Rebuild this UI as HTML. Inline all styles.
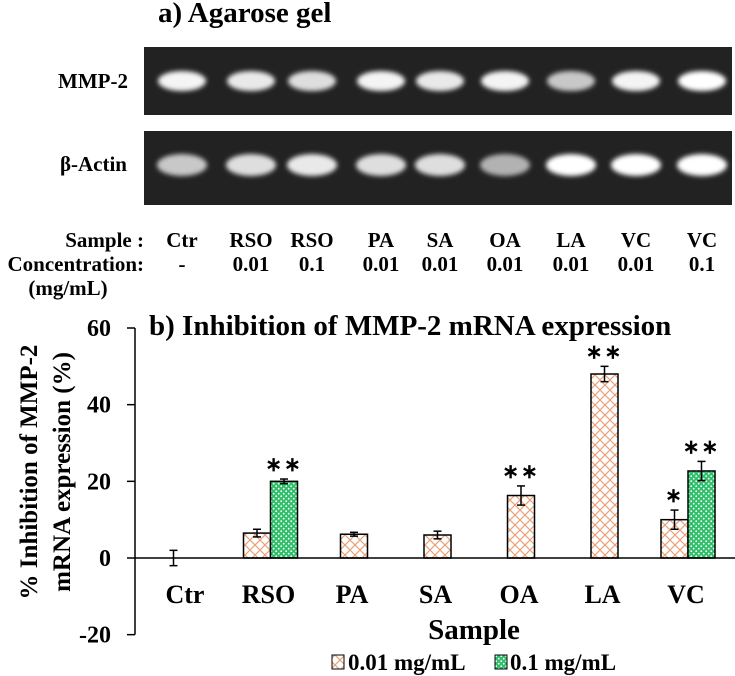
<!DOCTYPE html>
<html><head><meta charset="utf-8"><style>
body{margin:0;background:#fff;}
svg{display:block;font-family:"Liberation Serif",serif;font-weight:bold;}
</style></head><body>
<svg width="735" height="676" viewBox="0 0 735 676" xmlns="http://www.w3.org/2000/svg">
<defs>
<pattern id="hatch" width="10" height="10" patternUnits="userSpaceOnUse">
<rect width="10" height="10" fill="#fff"/>
<path d="M0,0 L10,10 M10,0 L0,10" stroke="#e8a27a" stroke-width="1.2"/>
</pattern>
<pattern id="dots" width="5" height="5" patternUnits="userSpaceOnUse">
<rect width="5" height="5" fill="#2fbf6a"/>
<circle cx="1.2" cy="1.2" r="0.9" fill="#fff"/>
<circle cx="3.7" cy="3.7" r="0.9" fill="#fff"/>
</pattern>
<filter id="blur"><feGaussianBlur stdDeviation="2.5"/></filter>
</defs>

<text x="158" y="22" font-size="29">a) Agarose gel</text>
<text x="128" y="88" font-size="21" text-anchor="end">MMP-2</text>
<text x="127" y="171" font-size="21" text-anchor="end">β-Actin</text>
<rect x="144" y="47" width="588" height="68" fill="#222"/>
<rect x="144" y="131" width="588" height="74" fill="#222"/>
<g id="bands" filter="url(#blur)"></g>

<g font-size="21">
<text x="144" y="247" text-anchor="end">Sample :</text>
<text x="144" y="271" text-anchor="end">Concentration:</text>
<text x="68" y="295" text-anchor="middle">(mg/mL)</text>
</g>
<g id="lanes" font-size="21" text-anchor="middle"></g>

<text x="149" y="335" font-size="29">b) Inhibition of MMP-2 mRNA expression</text>
<g id="chart"></g>
<text transform="translate(37,472) rotate(-90)" font-size="25" text-anchor="middle">% Inhibition of MMP-2</text>
<text transform="translate(70,472) rotate(-90)" font-size="25" text-anchor="middle">mRNA expression (%)</text>
<text x="474" y="639" font-size="29" text-anchor="middle">Sample</text>
<g font-size="23">
<rect x="332" y="655" width="12" height="14" fill="url(#hatch)" stroke="#000"/>
<text x="348" y="670">0.01 mg/mL</text>
<rect x="495" y="655" width="12" height="14" fill="url(#dots)" stroke="#000"/>
<text x="510" y="670">0.1 mg/mL</text>
</g>
</svg>
<script>
const laneSamples=["Ctr","RSO","RSO","PA","SA","OA","LA","VC","VC"];
const laneConc=["-","0.01","0.1","0.01","0.01","0.01","0.01","0.01","0.1"];
const laneX=[182,251,312,381,440,505,571,636,702];
const mmpIntensity=[0.95,0.9,0.85,0.95,0.9,0.95,0.75,0.95,1];
const actinIntensity=[0.75,0.85,0.9,0.85,0.85,0.65,1,1,1];

const categories=["Ctr","RSO","PA","SA","OA","LA","VC"];
const low=[0,6.5,6.2,6,16.3,48,10];
const lowErr=[2,1,0.5,1,2.5,2,2.5];
const high=[null,20,null,null,null,null,22.7];
const highErr=[null,0.6,null,null,null,null,2.5];
const lowSig=["","","","","**","**","*"];
const highSig=["","**","","","","","**"];
const paired=[true,true,false,false,false,false,true];
const yTicks=[60,40,20,0,-20];

const NS="http://www.w3.org/2000/svg";
function mk(tag,attrs,parent,text){const e=document.createElementNS(NS,tag);for(const k in attrs)e.setAttribute(k,attrs[k]);if(text!=null)e.textContent=text;parent.appendChild(e);return e;}

const bands=document.getElementById('bands');
const lanes=document.getElementById('lanes');
laneX.forEach((x,i)=>{
  const b1=mk('ellipse',{cx:x,cy:81,rx:24,ry:10,fill:'#fff','fill-opacity':mmpIntensity[i]},bands);
  
  
  const b2=mk('ellipse',{cx:x,cy:165,rx:25,ry:11,fill:'#fff','fill-opacity':actinIntensity[i]},bands);
  
  
  const t1=mk('text',{x:x,y:247},lanes,laneSamples[i]);
  
  
  const t2=mk('text',{x:x,y:271},lanes,laneConc[i]);
  
  
});

const chart=document.getElementById('chart');
const axX=135;
const yScale=v=>558-(v)*(230/60);
const xC=i=>187+i*83.5;
const bw=27;
const ya=mk('line',{x1:axX,y1:yScale(60),x2:axX,y2:yScale(-20),stroke:'#000','stroke-width':1.5},chart);


yTicks.forEach(t=>{
  const l=mk('line',{x1:axX-8,y1:yScale(t),x2:axX,y2:yScale(t),stroke:'#000','stroke-width':1.5},chart);
  
  
  const tx=mk('text',{x:111,y:yScale(t)+8,'font-size':24,'text-anchor':'end'},chart,String(t));
  
  
});
function err(cx,v,e){
  const g=mk('g',{stroke:'#000','stroke-width':1.5},chart);
  
  
  mk('line',{x1:cx,y1:yScale(v+e),x2:cx,y2:yScale(v-e)},g);
  mk('line',{x1:cx-4,y1:yScale(v+e),x2:cx+4,y2:yScale(v+e)},g);
  mk('line',{x1:cx-4,y1:yScale(v-e),x2:cx+4,y2:yScale(v-e)},g);
}
function star(cx,v,e,s){
  if(!s)return;
  const t=mk('text',{x:cx,y:yScale(v+e)-8,'font-size':20,'text-anchor':'middle','letter-spacing':'2'},chart,s.replace(/\*/g,'∗'));
  
  
}
categories.forEach((c,i)=>{
  const cx=xC(i);
  const x0=paired[i]?cx-bw:cx-bw/2;
  if(low[i]!==0){
    const r=mk('rect',{x:x0,y:yScale(low[i]),width:bw,height:yScale(0)-yScale(low[i]),fill:'url(#hatch)',stroke:'#000','stroke-width':1.5},chart);
    
    
  }
  err(x0+bw/2,low[i],lowErr[i]);
  star(x0+bw/2,low[i],lowErr[i],lowSig[i]);
  if(high[i]!=null){
    const r=mk('rect',{x:cx,y:yScale(high[i]),width:bw,height:yScale(0)-yScale(high[i]),fill:'url(#dots)',stroke:'#000','stroke-width':1.5},chart);
    
    
    err(cx+bw/2,high[i],highErr[i]);
    star(cx+bw/2,high[i],highErr[i],highSig[i]);
  }
  const t=mk('text',{x:cx-2,y:603,'font-size':26,'text-anchor':'middle'},chart,c);
  
  
});
const xa=mk('line',{x1:axX,y1:yScale(0),x2:735,y2:yScale(0),stroke:'#000','stroke-width':1.5},chart);


</script>
</body></html>
